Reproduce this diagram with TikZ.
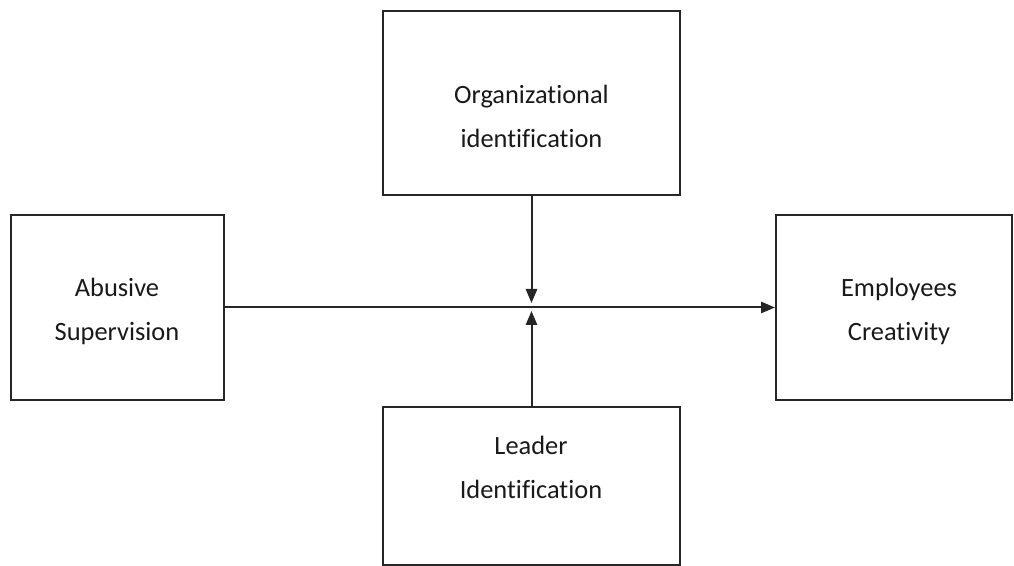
\documentclass[tikz,border=0pt]{standalone}
\usepackage{fontspec}
\setmainfont{Carlito}[Ligatures=NoCommon]
\usetikzlibrary{arrows.meta}
\begin{document}
\begin{tikzpicture}[x=0.75pt,y=-0.75pt,
  box/.style={draw=black!85,line width=1.5pt,rectangle,inner sep=0pt},
  lbl/.style={align=center,font=\fontsize{19.8}{33}\selectfont,text=black!90},
  conn/.style={draw=black!85,line width=1.5pt},
  tip/.style={-{Triangle[length=10.5pt,width=8.5pt]}}]
\useasboundingbox (0,0) rectangle (1014,566);
% boxes
\node[box,minimum width=297*0.75pt,minimum height=184*0.75pt] (org) at (531.5,103) {};
\node[box,minimum width=213*0.75pt,minimum height=185*0.75pt] (abu) at (117.5,307.5) {};
\node[box,minimum width=236*0.75pt,minimum height=185*0.75pt] (emp) at (894,307.5) {};
\node[box,minimum width=297*0.75pt,minimum height=158*0.75pt] (lead) at (531.5,486) {};
% labels
\node[lbl] (orgt) at (531.5,116) {Organizational\\identification};
\node[lbl] (abut) at (117,311) {Abusive\\Supervision};
\node[lbl] (empt) at (899,311) {Employees\\Creativity};
\node[lbl] (leadt) at (531,467) {Leader\\Identification};
% moderator meeting points
\coordinate (mtop) at (531.5,303);
\coordinate (mbot) at (531.5,311);
% connectors
\draw[conn,tip] (abu.east) -- (emp.west);
\draw[conn,tip] (org.south) -- (mtop);
\draw[conn,tip] (lead.north) -- (mbot);
\end{tikzpicture}
\end{document}
